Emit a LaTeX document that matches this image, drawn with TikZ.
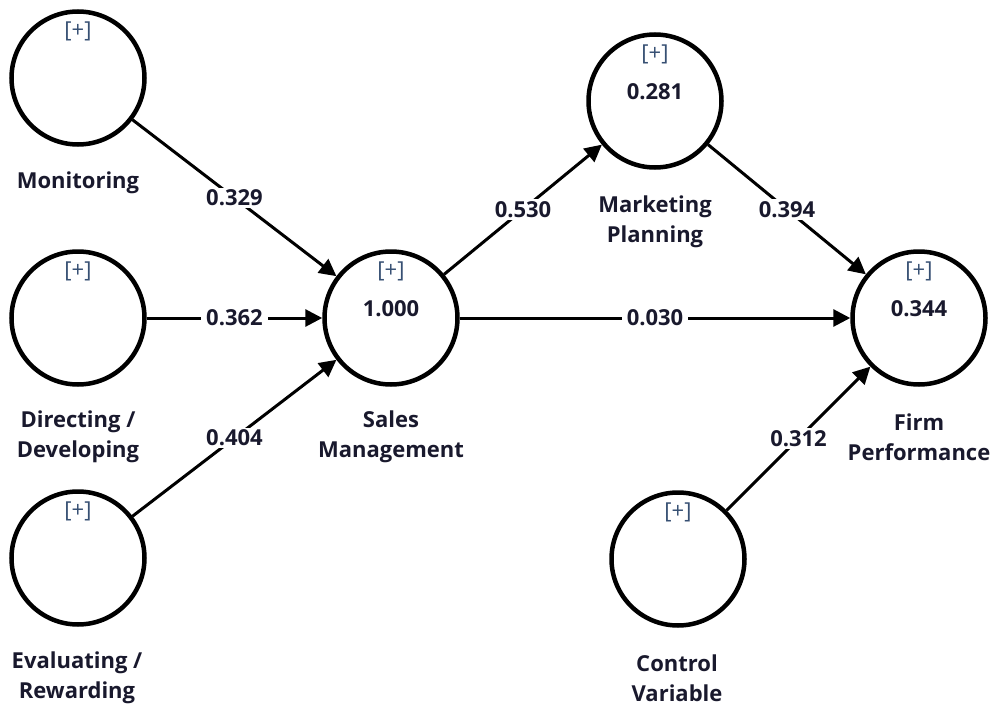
\documentclass[tikz,border=0pt]{standalone}
\usepackage{fontspec}
\setmainfont{Open Sans}
\usetikzlibrary{arrows.meta}
\definecolor{txt}{RGB}{25,25,45}
\definecolor{plus}{RGB}{55,80,115}
\begin{document}
\begin{tikzpicture}[x=1pt,y=-1pt,
 lv/.style={circle,draw=black,line width=4.5pt,minimum size=133pt,inner sep=0pt},
 plustxt/.style={font=\fontsize{22}{22}\selectfont,text=plus},
 valtxt/.style={font=\bfseries\fontsize{22}{22}\selectfont,text=txt},
 lvname/.style={font=\bfseries\fontsize{22}{30}\selectfont,text=txt,align=center},
 edge/.style={line width=3pt,-{Triangle[length=17pt,width=17pt]}},
 elab/.style={fill=white,inner xsep=5pt,inner ysep=2pt,font=\bfseries\fontsize{22}{22}\selectfont,text=txt}]
\useasboundingbox (0,0) rectangle (994,709);
% latent variables
\node[lv] (mon) at (78,78) {};
\node[lv] (dir) at (78,318) {};
\node[lv] (eva) at (78,558) {};
\node[lv] (sal) at (391,318) {};
\node[lv] (mkt) at (655,101) {};
\node[lv] (frm) at (919,318) {};
\node[lv] (ctl) at (678,559) {};
% [+] markers
\foreach \n in {mon,dir,eva,sal,mkt,frm,ctl}
  \node[plustxt] (p\n) at ([yshift=47pt]\n.center) {[+]};
% values
\node[valtxt] (vsal) at ([yshift=9pt]sal.center) {1.000};
\node[valtxt] (vmkt) at ([yshift=9pt]mkt.center) {0.281};
\node[valtxt] (vfrm) at ([yshift=9pt]frm.center) {0.344};
% names
\node[lvname] (nmon) at (78,183) {Monitoring};
\node[lvname] (ndir) at (78,437) {Directing /\\Developing};
\node[lvname] (neva) at (77,678) {Evaluating /\\Rewarding};
\node[lvname] (nsal) at (391,437) {Sales\\Management};
\node[lvname] (nmkt) at (655,222) {Marketing\\Planning};
\node[lvname] (nfrm) at (919,437) {Firm\\Performance};
\node[lvname] (nctl) at (677,678) {Control\\Variable};
% paths
\draw[edge] (mon) -- node[elab] {0.329} (sal);
\draw[edge] (dir) -- node[elab] {0.362} (sal);
\draw[edge] (eva) -- node[elab] {0.404} (sal);
\draw[edge] (sal) -- node[elab] {0.530} (mkt);
\draw[edge] (sal) -- node[elab] {0.030} (frm);
\draw[edge] (mkt) -- node[elab] {0.394} (frm);
\draw[edge] (ctl) -- node[elab] {0.312} (frm);
\end{tikzpicture}
\end{document}
